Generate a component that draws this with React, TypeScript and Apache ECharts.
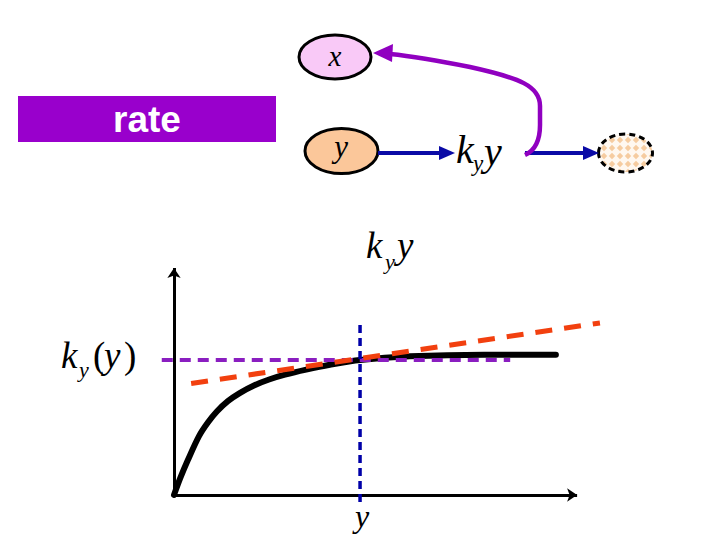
import React, { useEffect, useRef } from "react";
import * as echarts from "echarts";

// Saturating rate curve k_y(y)·y (x: 0..100, y: 0..100 units)
const curveX = [0, 1.5, 3.4, 6.1, 8.3, 10.5, 13.2, 16.1, 19.6, 23.3, 27.2, 32.4, 38.2, 45.6, 57.8, 76, 93.6];
const curveY = [0, 7.2, 15.2, 25.5, 31.5, 36.3, 40.8, 44.3, 47.6, 50.2, 52.3, 54.5, 56.6, 58.7, 60.3, 61.0, 61.0];
// Horizontal level k_y(y)
const levelX = [-3, 82.4];
const levelY = [58.7, 58.7];
// Tangent (red dashed) line
const tangentX = [4.2, 104.4];
const tangentY = [48.5, 74.8];
// Vertical marker at y
const markerX = [45.6, 45.6];
const markerY = [73.9, -3];
// Axis ends (origin to arrow)
const xAxisEnd = [98.8, 0];
const yAxisEnd = [0, 98.7];

const pairs = (xs: number[], ys: number[]) => xs.map((x, i) => [x, ys[i]]);

const ARC_D =
  "M525,155 C536,150 540,140 540,125 L540,106 C540,86 520,78 470,67 C440,61 410,56 390,54";
try {
  echarts.graphic.registerShape("purpleArc", echarts.graphic.extendPath(ARC_D, {}) as any);
} catch (e) {}

const diamondSvg =
  "data:image/svg+xml;charset=utf-8," +
  encodeURIComponent(
    "<svg xmlns='http://www.w3.org/2000/svg' width='8' height='8'><rect width='8' height='8' fill='#fff8f0'/><polygon points='4,0.8 7.2,4 4,7.2 0.8,4' fill='#f6cca0'/></svg>"
  );

const serif = '"Liberation Serif", "DejaVu Serif", serif';

function txt(text: string, x: number, y: number, size: number, italic = true, align = "left") {
  return {
    type: "text",
    x,
    y,
    style: {
      text,
      fontSize: size,
      fontFamily: serif,
      fontStyle: italic ? "italic" : "normal",
      fill: "#000",
      align,
      verticalAlign: "middle",
    },
  };
}

export default function App() {
  const ref = useRef<HTMLDivElement>(null);
  useEffect(() => {
    const chart = echarts.init(ref.current!, null, { renderer: "svg" });
    const blue = "#0a0aa6";
    const purple = "#9000c0";
    chart.setOption({
      animation: false,
      backgroundColor: "#ffffff",
      grid: { left: 133.2, top: 265, width: 489.6, height: 253 },
      xAxis: { type: "value", min: -10, max: 110, show: false },
      yAxis: { type: "value", min: -10, max: 100, show: false },
      series: [
        {
          type: "line",
          name: "axes",
          data: [],
          silent: true,
          markLine: {
            silent: true,
            z: 1,
            symbol: ["none", "arrow"],
            symbolSize: 10,
            label: { show: false },
            lineStyle: { color: "#000", width: 3, type: "solid" },
            emphasis: { disabled: true },
            data: [
              [{ coord: [0, 0] }, { coord: xAxisEnd }],
              [{ coord: [0, 0] }, { coord: yAxisEnd }],
            ],
          },
        },
        {
          type: "line",
          name: "rate",
          data: pairs(curveX, curveY),
          smooth: 0.3,
          showSymbol: false,
          symbol: "none",
          lineStyle: { color: "#000", width: 6, cap: "round", join: "round" },
          z: 3,
        },
        {
          type: "line",
          name: "level",
          data: pairs(levelX, levelY),
          showSymbol: false,
          symbol: "none",
          lineStyle: { color: "#8a1ec0", width: 4, type: [11, 7] },
          z: 4,
        },
        {
          type: "line",
          name: "tangent",
          data: pairs(tangentX, tangentY),
          showSymbol: false,
          symbol: "none",
          lineStyle: { color: "#f2400f", width: 5, type: [17, 12] },
          z: 5,
        },
        {
          type: "line",
          name: "marker",
          data: pairs(markerX, markerY),
          showSymbol: false,
          symbol: "none",
          lineStyle: { color: "#0000a8", width: 3.5, type: [8, 5] },
          z: 6,
        },
      ],
      graphic: [
        // rate box
        {
          type: "rect",
          shape: { x: 18, y: 96, width: 258, height: 46 },
          style: { fill: "#9900cc" },
        },
        {
          type: "text",
          x: 147,
          y: 119,
          style: {
            text: "rate",
            fontSize: 37,
            fontWeight: "bold",
            fontFamily: '"Liberation Sans", Arial, sans-serif',
            fill: "#ffffff",
            align: "center",
            verticalAlign: "middle",
          },
        },
        // ellipses
        {
          type: "ellipse",
          shape: { cx: 335, cy: 57, rx: 36, ry: 22 },
          style: { fill: "#f9c9f7", stroke: "#000", lineWidth: 3 },
        },
        {
          type: "ellipse",
          shape: { cx: 341.5, cy: 151, rx: 36.5, ry: 22.5 },
          style: { fill: "#fbc79a", stroke: "#000", lineWidth: 3 },
        },
        {
          type: "ellipse",
          shape: { cx: 625.5, cy: 153, rx: 27, ry: 19 },
          style: {
            fill: { image: diamondSvg, repeat: "repeat", imageWidth: 8, imageHeight: 8 } as any,
            stroke: "#000",
            lineWidth: 3,
            lineDash: [6, 4],
          },
        },
        txt("x", 335, 55.5, 29, true, "center"),
        txt("y", 341, 146, 31, true, "center"),
        // blue arrows
        {
          type: "line",
          shape: { x1: 378, y1: 153, x2: 441, y2: 153 },
          style: { stroke: blue, lineWidth: 4 },
        },
        {
          type: "polygon",
          shape: { points: [[455, 153], [439, 146], [439, 160]] },
          style: { fill: blue },
        },
        {
          type: "line",
          shape: { x1: 525, y1: 153, x2: 585, y2: 153 },
          style: { stroke: blue, lineWidth: 4 },
        },
        {
          type: "polygon",
          shape: { points: [[599, 153], [583, 146], [583, 160]] },
          style: { fill: blue },
        },
        // purple arc
        {
          type: "purpleArc",
          x: 0,
          y: 0,
          style: { fill: "none", stroke: purple, lineWidth: 4.5 },
        },
        {
          type: "polygon",
          shape: { points: [[373, 53], [393, 44], [392, 62]] },
          style: { fill: purple },
        },
        // k_y y in the diagram
        txt("k", 456, 149, 40),
        txt("y", 473, 163, 23),
        txt("y", 484, 151, 40),
        // k_y y above the plot
        txt("k", 366, 245, 37),
        txt("y", 385, 261, 22),
        txt("y", 397, 245, 37),
        // k_y(y) at the level line
        txt("k", 61, 355, 37),
        txt("y", 79, 369, 22),
        txt("(", 93, 355, 37, false),
        txt("y", 104, 355, 37),
        txt(")", 124, 355, 37, false),
        // y under the x axis
        txt("y", 362, 516, 32, true, "center"),
      ],
    });
    return () => chart.dispose();
  }, []);
  return (
    <div
      ref={ref}
      style={{ position: "fixed", left: 0, top: 0, width: 720, height: 540, background: "#fff" }}
    />
  );
}
